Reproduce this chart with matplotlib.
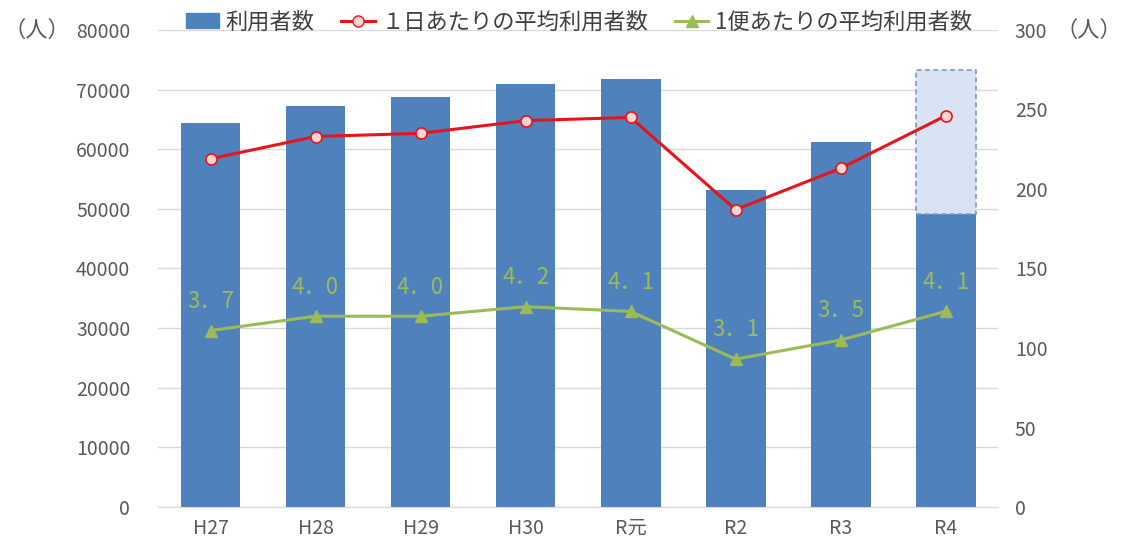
import numpy as np
import matplotlib.pyplot as plt
from matplotlib.lines import Line2D
from matplotlib.patches import Patch

plt.rcParams['font.family'] = ['Noto Sans CJK JP', 'DejaVu Sans']

# data
years = ['H27', 'H28', 'H29', 'H30', 'R元', 'R2', 'R3', 'R4']
users = [64400, 67200, 68800, 70900, 71800, 53100, 61200, 49200]
r4_estimate = 73300          # dashed (estimated) top of the R4 bar
daily_avg = [219, 233, 235, 243, 245, 187, 213, 246]
per_trip = [3.7, 4.0, 4.0, 4.2, 4.1, 3.1, 3.5, 4.1]
per_trip_scale = 30          # green line sits on the right axis at value*30

blue = '#4f81bd'
red = '#e8141b'
green = '#9bbb59'
txt = '#595959'

fig = plt.figure(figsize=(11.24, 5.45), dpi=100)
ax = fig.add_axes([0.1406, 0.0697, 0.7474, 0.8753])
ax2 = ax.twinx()

x = np.arange(len(years))
w = 0.57
ax.bar(x, users, width=w, color=blue, zorder=2)
ax.bar(x[-1], r4_estimate - users[-1], bottom=users[-1], width=w,
       facecolor='#dae3f3', edgecolor='#7f9cc0', linestyle=(0, (3, 2)),
       linewidth=1.2, zorder=2)

ax.set_ylim(0, 80000)
ax.set_yticks(np.arange(0, 80001, 10000))
ax.set_xlim(-0.5, len(years) - 0.5)
ax.set_xticks(x)
ax.set_xticklabels(years)
ax.grid(axis='y', color='#d9d9d9', linewidth=1, zorder=0)
ax.set_axisbelow(True)
for s in ['top', 'left', 'right']:
    ax.spines[s].set_visible(False)
ax.spines['bottom'].set_color('#d9d9d9')
ax.tick_params(axis='both', length=0, colors=txt, labelsize=14)
ax.tick_params(axis='y', pad=20)
ax.tick_params(axis='x', pad=8)

ax2.set_ylim(0, 300)
ax2.set_yticks(np.arange(0, 301, 50))
for s in ['top', 'left', 'right', 'bottom']:
    ax2.spines[s].set_visible(False)
ax2.tick_params(axis='y', length=0, colors=txt, labelsize=14, pad=12)

ax2.plot(x, daily_avg, color=red, linewidth=2.2, marker='o', markersize=8,
         markerfacecolor='#fbd5d5', markeredgecolor=red, markeredgewidth=1.2, zorder=4)
trip_y = np.array(per_trip) * per_trip_scale
ax2.plot(x, trip_y, color=green, linewidth=2.2, marker='^', markersize=9,
         markerfacecolor=green, markeredgecolor=green, zorder=4)
for xi, yi, v in zip(x, trip_y, per_trip):
    ax2.annotate(f'{v:.1f}'.replace('.', '．'), (xi, yi), xytext=(0, 21),
                 textcoords='offset points', ha='center', va='center',
                 color=green, fontsize=16)

fig.text(0.003, 0.945, '（人）', ha='left', va='center', fontsize=16, color=txt)
fig.text(0.998, 0.945, '（人）', ha='right', va='center', fontsize=16, color=txt)

handles = [Patch(facecolor=blue, edgecolor=blue),
           Line2D([], [], color=red, linewidth=2.2, marker='o', markersize=8,
                  markerfacecolor='#fbd5d5', markeredgecolor=red),
           Line2D([], [], color=green, linewidth=2.2, marker='^', markersize=8,
                  markerfacecolor=green)]
labels = ['利用者数', '１日あたりの平均利用者数', '1便あたりの平均利用者数']
leg = fig.legend(handles, labels, loc='center', bbox_to_anchor=(0.515, 0.96),
                 ncol=3, frameon=False, handlelength=1.5,
                 handletextpad=0.3, columnspacing=1.2,
                 prop={'size': 16})
for t in leg.get_texts():
    t.set_color('#404040')

fig.savefig('out.png', dpi=100)
